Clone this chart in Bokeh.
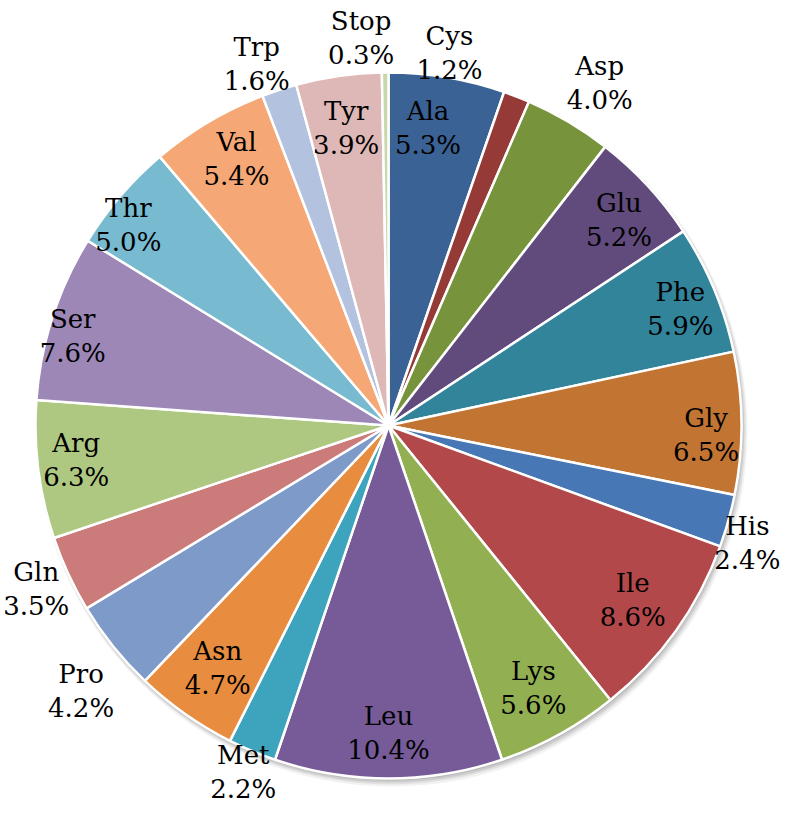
import math
from bokeh.plotting import figure
from bokeh.models import Range1d, ColumnDataSource
from bokeh.core.properties import value
from bokeh.embed import file_html
from bokeh.resources import INLINE

# ---- data ----
amino = ["Ala", "Cys", "Asp", "Glu", "Phe", "Gly", "His", "Ile", "Lys", "Leu", "Met",
         "Asn", "Pro", "Gln", "Arg", "Ser", "Thr", "Val", "Trp", "Tyr", "Stop"]
percent = [5.3, 1.2, 4.0, 5.2, 5.9, 6.5, 2.4, 8.6, 5.6, 10.4, 2.2,
           4.7, 4.2, 3.5, 6.3, 7.6, 5.0, 5.4, 1.6, 3.9, 0.3]
colors = ["#3B6295", "#963A38", "#77933C", "#614B7C", "#32849B", "#C27433", "#4777B5",
          "#B3484A", "#92B052", "#765B98", "#3EA3BC", "#E88D3F", "#7D9AC9", "#CB7B7A",
          "#AFC881", "#9C87B7", "#78BACF", "#F5A875", "#B3C2DF", "#DEB7B7", "#C8D8AA"]

# label placement style (radius factor of pie radius, angular nudge in degrees)
label_r = [0.85, 1.07, 1.14, 0.875, 0.89, 0.90, 1.07, 0.85, 0.85, 0.87, 1.065,
           0.84, 1.15, 1.10, 0.89, 0.93, 0.93, 0.87, 1.09, 0.85, 1.10]
label_nudge = [-2, -12, 1, 1, 1, 2, 2.5, 0, 0, 0, 0,
               0, -2, 0, 1, -2, -3, 1, -2, 0, -3.5]

W, H = 784, 811
REF_H = 827
cx, cy, R = 388, REF_H - 425, 353

p = figure(width=W, height=H, output_backend="svg", toolbar_location=None,
           x_range=Range1d(0, W), y_range=Range1d(REF_H - H, REF_H), min_border=0)
p.axis.visible = False
p.grid.visible = False
p.outline_line_color = None
p.background_fill_color = "white"
p.border_fill_color = "white"

total = sum(percent)
starts, ends, mids = [], [], []
cum = 0.0
for v in percent:
    a0 = math.pi / 2 - 2 * math.pi * cum / total
    cum += v
    a1 = math.pi / 2 - 2 * math.pi * cum / total
    starts.append(a0)
    ends.append(a1)
    mids.append((a0 + a1) / 2)

# soft shadow
for off, extra, alpha in [(5, 3, 0.05), (4, 2, 0.07), (3, 1, 0.09), (2, 0, 0.11)]:
    p.circle(x=[cx + off * 0.6], y=[cy - off], radius=R + extra, fill_color="#000000",
             fill_alpha=alpha, line_color=None)

src = ColumnDataSource(dict(start=starts, end=ends, color=colors))
p.wedge(x=cx, y=cy, radius=R, start_angle="start", end_angle="end", direction="clock",
        fill_color="color", line_color="white", line_width=2.5, source=src)

lx, ly, names, vals = [], [], [], []
for name, v, a, rf, nd in zip(amino, percent, mids, label_r, label_nudge):
    ang = a - math.radians(nd)
    lx.append(cx + rf * R * math.cos(ang))
    ly.append(cy + rf * R * math.sin(ang))
    names.append(name)
    vals.append(f"{v:.1f}%")

lsrc = ColumnDataSource(dict(x=lx, y=ly, name=names, val=vals))
font = value("DejaVu Serif")
p.text(x="x", y="y", text="name", source=lsrc, text_font=font, text_font_size="26px",
       text_align="center", text_baseline="middle", y_offset=-17, text_color="black")
p.text(x="x", y="y", text="val", source=lsrc, text_font=font, text_font_size="26px",
       text_align="center", text_baseline="middle", y_offset=17, text_color="black")

open("out.html", "w").write(file_html(p, INLINE))
